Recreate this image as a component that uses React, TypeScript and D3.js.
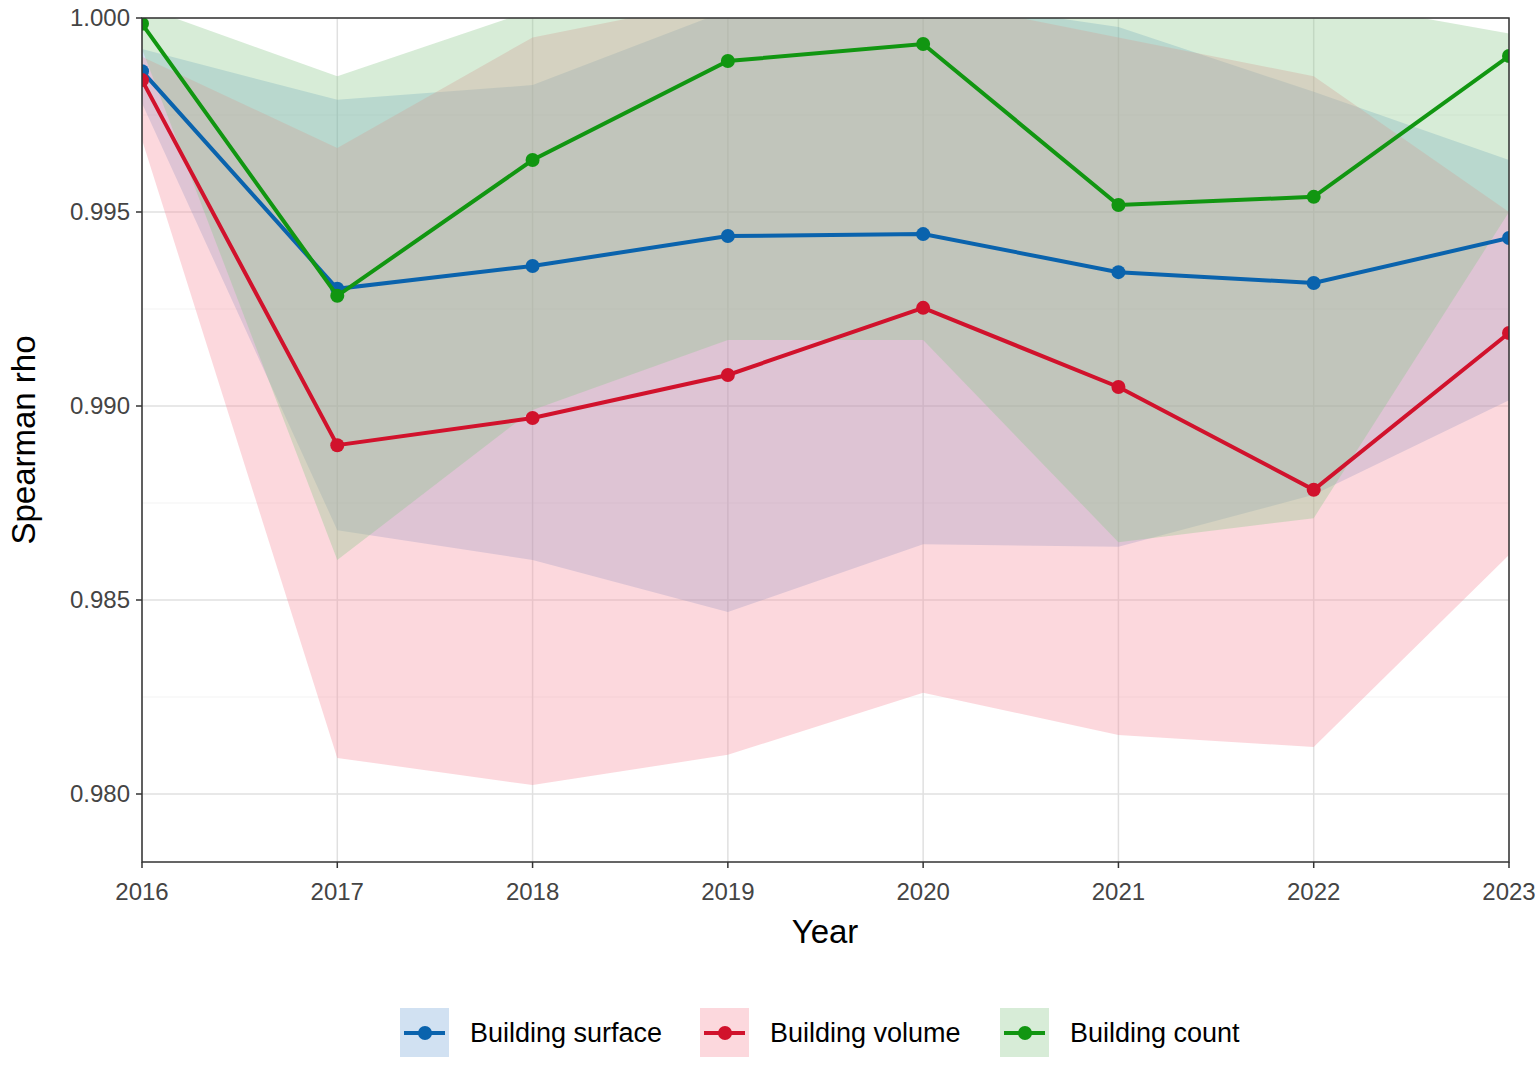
import React from "react";
import * as d3 from "d3";

const years = [2016, 2017, 2018, 2019, 2020, 2021, 2022, 2023];
const surface = [0.99863, 0.99302, 0.99361, 0.99438, 0.99443, 0.99345, 0.99317, 0.99433];
const surfaceLo = [0.9978, 0.9868, 0.98603, 0.98469, 0.98644, 0.98637, 0.98771, 0.99015];
const surfaceHi = [0.9992, 0.99789, 0.99827, 1.0002, 1.0005, 0.99977, 0.9981, 0.99634];
const volume = [0.9984, 0.98899, 0.98969, 0.9908, 0.99253, 0.99049, 0.98784, 0.99188];
const volumeLo = [0.99686, 0.98093, 0.98023, 0.98101, 0.98261, 0.98152, 0.98121, 0.98616];
const volumeHi = [0.999, 0.99665, 0.9995, 1.0005, 1.0005, 0.9995, 0.9985, 0.995];
const count = [0.99985, 0.99284, 0.99634, 0.99889, 0.99933, 0.99518, 0.99539, 0.99902];
const countLo = [0.9992, 0.98603, 0.9899, 0.9917, 0.9917, 0.98649, 0.98711, 0.995];
const countHi = [1.0003, 0.9985, 1.0002, 1.0005, 1.0005, 1.0005, 1.0005, 0.9996];
const yTicks = [0.98, 0.985, 0.99, 0.995, 1.0];

const series = [
  { name: "Building surface", v: surface, lo: surfaceLo, hi: surfaceHi, color: "#0a63ad", fill: "#5b93cf", op: 0.28 },
  { name: "Building volume", v: volume, lo: volumeLo, hi: volumeHi, color: "#d1122c", fill: "#f5909f", op: 0.35 },
  { name: "Building count", v: count, lo: countLo, hi: countHi, color: "#119611", fill: "#8cc88c", op: 0.35 },
];

export default function App() {
  const L = 142, R = 1509, T = 18, B = 862;
  const x = d3.scaleLinear().domain([2016, 2023]).range([L, R]);
  const y = d3.scaleLinear().domain([0.98, 1.0]).range([794, 18]);
  const area = (s: any) =>
    d3.area<number>().x((_, i) => x(years[i])).y0((_, i) => y(s.lo[i])).y1((_, i) => y(s.hi[i]))(years as any);
  const line = (s: any) => d3.line<number>().x((_, i) => x(years[i])).y((_, i) => y(s.v[i]))(years as any);
  const font = "Liberation Sans, Arial, sans-serif";
  const legX = [400, 700, 1000];
  return (
    <svg width={1535} height={1075} style={{ position: "absolute", left: 0, top: 0, background: "#fff" }} fontFamily={font}>
      <defs>
        <clipPath id="c"><rect x={L} y={T} width={R - L} height={B - T} /></clipPath>
      </defs>
      {yTicks.map((t) => <line key={t} x1={L} x2={R} y1={y(t)} y2={y(t)} stroke="#e0e0e0" strokeWidth={1.5} />)}
      {yTicks.slice(0, 4).map((t) => <line key={"m" + t} x1={L} x2={R} y1={y(t + 0.0025)} y2={y(t + 0.0025)} stroke="#f0f0f0" strokeWidth={0.8} />)}
      {years.map((yr) => <line key={yr} x1={x(yr)} x2={x(yr)} y1={T} y2={B} stroke="#e0e0e0" strokeWidth={1.5} />)}
      <g clipPath="url(#c)">
        {series.map((s) => <path key={s.name} d={area(s) || ""} fill={s.fill} fillOpacity={s.op} />)}
        {series.map((s) => (
          <g key={s.name + "l"}>
            <path d={line(s) || ""} fill="none" stroke={s.color} strokeWidth={4} />
            {s.v.map((v, i) => <circle key={i} cx={x(years[i])} cy={y(v)} r={7} fill={s.color} />)}
          </g>
        ))}
      </g>
      <rect x={L} y={T} width={R - L} height={B - T} fill="none" stroke="#333" strokeWidth={1.5} />
      {yTicks.map((t) => (
        <g key={"yt" + t}>
          <line x1={L - 6} x2={L} y1={y(t)} y2={y(t)} stroke="#333" strokeWidth={1.5} />
          <text x={L - 12} y={y(t) + 8} textAnchor="end" fontSize={24} fill="#444">{t.toFixed(3)}</text>
        </g>
      ))}
      {years.map((yr) => (
        <g key={"xt" + yr}>
          <line x1={x(yr)} x2={x(yr)} y1={B} y2={B + 6} stroke="#333" strokeWidth={1.5} />
          <text x={x(yr)} y={B + 38} textAnchor="middle" fontSize={24} fill="#444">{yr}</text>
        </g>
      ))}
      <text x={825} y={943} textAnchor="middle" fontSize={33}>Year</text>
      <text transform="translate(35,440) rotate(-90)" textAnchor="middle" fontSize={33}>Spearman rho</text>
      {series.map((s, i) => (
        <g key={"lg" + i} transform={`translate(${legX[i]},1008)`}>
          <rect x={0} y={0} width={49} height={49} fill={s.fill} fillOpacity={s.op} />
          <line x1={4} x2={45} y1={25} y2={25} stroke={s.color} strokeWidth={4} />
          <circle cx={25} cy={25} r={7} fill={s.color} />
          <text x={70} y={34} fontSize={27}>{s.name}</text>
        </g>
      ))}
    </svg>
  );
}
